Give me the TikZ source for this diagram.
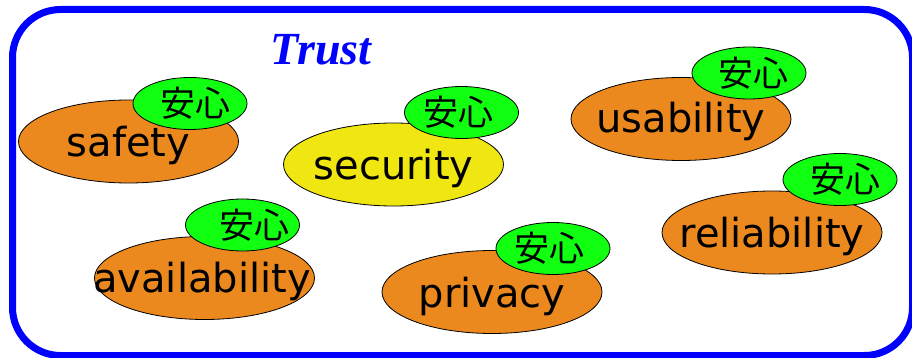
\documentclass[tikz,border=0pt]{standalone}
\usepackage{fontspec}
\setmainfont{DejaVu Sans}
\newfontfamily\cjkfont{Noto Sans CJK JP}
\newfontfamily\trustfont{Liberation Serif}
\usetikzlibrary{shapes.geometric}
\definecolor{aspOrange}{RGB}{235,137,30}
\definecolor{aspGreen}{RGB}{17,255,17}
\definecolor{aspYellow}{RGB}{240,230,17}
\definecolor{aspBlue}{RGB}{0,0,255}
\tikzset{
  bigell/.style={ellipse, draw=black, line width=0.8pt, minimum width=220pt, minimum height=83pt, inner sep=0pt},
  smallell/.style={ellipse, draw=black, line width=0.8pt, fill=aspGreen, minimum width=114pt, minimum height=52pt, inner sep=0pt},
  word/.style={font=\fontsize{40}{48}\selectfont, anchor=base, inner sep=0pt},
  anshin/.style={font=\cjkfont\fontsize{35}{40}\selectfont, inner sep=0pt},
}
\begin{document}
\begin{tikzpicture}[x=1pt,y=-1pt]
\useasboundingbox (0,0) rectangle (912,358);
\fill[white] (0,0) rectangle (912,358);
\draw[aspBlue, line width=7pt, rounded corners=48pt] (12.5,9.5) rectangle (912.5,355.5);
\node[font=\trustfont\bfseries\itshape\fontsize{46}{52}\selectfont, text=aspBlue, anchor=base, inner sep=0pt] (trust) at (321,65) {Trust};

% safety
\node[bigell, fill=aspOrange] (saf) at (128.5,141.5) {};
\node[word] (safT) at ([yshift=-15pt]saf.center) {safety};
\node[smallell] (safG) at (190,103.5) {};
\node[anshin] (safA) at ([xshift=5pt]safG.center) {安心};

% security
\node[bigell, fill=aspYellow] (sec) at (393.5,164.5) {};
\node[word] (secT) at ([yshift=-15pt]sec.center) {security};
\node[smallell] (secG) at (461.5,112.5) {};
\node[anshin] (secA) at ([xshift=-3.5pt]secG.center) {安心};

% usability
\node[bigell, fill=aspOrange] (usa) at (681,119) {};
\node[word] (usaT) at ([yshift=-14pt]usa.center) {usability};
\node[smallell] (usaG) at (749,73) {};
\node[anshin] (usaA) at ([xshift=4pt]usaG.center) {安心};

% reliability
\node[bigell, fill=aspOrange] (rel) at (772,232.5) {};
\node[word] (relT) at ([yshift=-15pt]rel.center) {reliability};
\node[smallell] (relG) at (840,179.5) {};
\node[anshin] (relA) at ([xshift=5pt]relG.center) {安心};

% availability
\node[bigell, fill=aspOrange] (ava) at (204.5,278) {};
\node[word] (avaT) at ([xshift=-2.5pt,yshift=-14pt]ava.center) {availability};
\node[smallell] (avaG) at (242.5,225) {};
\node[anshin] (avaA) at ([xshift=12pt]avaG.center) {安心};

% privacy
\node[bigell, fill=aspOrange] (pri) at (492,292) {};
\node[word] (priT) at ([yshift=-15pt]pri.center) {privacy};
\node[smallell] (priG) at (553,248.5) {};
\node[anshin] (priA) at ([xshift=-4pt]priG.center) {安心};
\end{tikzpicture}
\end{document}
